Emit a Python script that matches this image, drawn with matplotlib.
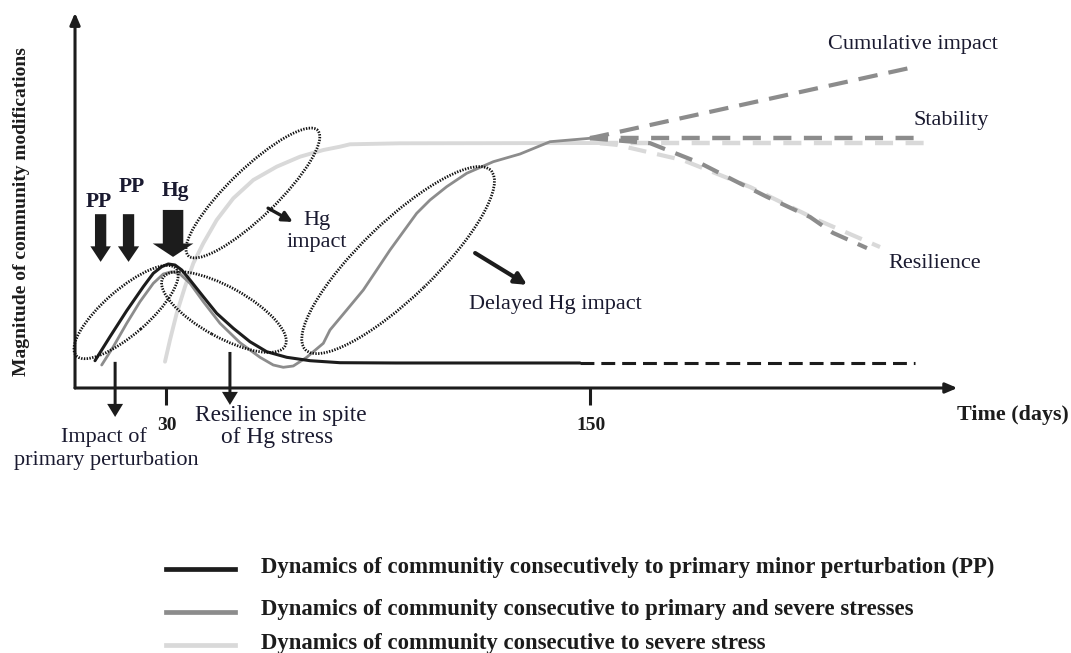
import matplotlib
matplotlib.use("Agg")
import matplotlib.pyplot as plt
from matplotlib.patches import Ellipse
from matplotlib.lines import Line2D

plt.rcParams['lines.scale_dashes'] = False
plt.rcParams['font.family'] = ['Liberation Serif', 'DejaVu Serif']

# ---------------- data (days, magnitude in arbitrary units) ----------------
pp_days = [9.91, 14.15, 18.88, 23.58, 26.41, 28.79, 30.65, 32.55, 34.45, 36.80, 40.56, 44.35,
           49.05, 53.78, 58.51, 64.17, 70.76, 79.25, 95.0, 147.18]
pp_mag = [7.73, 14.52, 21.88, 28.67, 32.47, 34.33, 35.10, 34.81, 33.40, 30.57, 25.84, 21.14,
          16.90, 13.10, 10.27, 8.69, 7.73, 7.16, 7.08, 7.08]
pp_dash_days = [147.18, 242.0]
pp_dash_mag = [7.08, 7.08]

both_days = [11.80, 15.09, 18.88, 22.64, 26.41, 29.24, 31.62, 33.97, 36.80, 40.56, 45.29, 50.95,
             56.61, 60.37, 63.20, 66.03, 69.83, 74.53, 76.42, 81.15, 85.85, 89.64, 93.41, 97.17,
             100.96, 104.73, 109.45, 115.11, 122.64, 130.20, 138.69, 150.01]
both_mag = [6.51, 11.69, 18.31, 24.43, 29.63, 32.27, 32.92, 32.27, 29.63, 24.43, 18.31, 12.82,
            8.69, 6.51, 5.86, 6.23, 8.69, 12.65, 16.42, 22.08, 27.74, 33.40, 39.06, 44.24,
            49.45, 53.21, 56.98, 60.77, 64.05, 66.23, 69.71, 70.68]

severe_days = [29.72, 31.13, 33.03, 35.38, 37.73, 40.56, 44.35, 49.05, 54.71, 61.33, 67.93,
               74.53, 79.25, 82.08, 96.24, 152.84]
severe_mag = [7.45, 13.59, 21.14, 28.67, 35.30, 40.96, 47.55, 53.69, 58.87, 62.64, 65.47,
              67.36, 68.30, 68.98, 69.26, 69.34]

# scenarios after day 150
cumul_days = [150.0, 240.6]
cumul_mag = [70.7, 90.6]
stab_both_days = [150.0, 243.4]
stab_both_mag = [70.7, 70.7]
stab_sev_days = [152.8, 247.7]
stab_sev_mag = [69.3, 69.3]
resil_both_days = [150.0, 167.0, 181.1, 190.5, 200.1, 212.3, 218.8, 228.4]
resil_both_mag = [70.7, 69.3, 63.7, 58.9, 54.1, 48.4, 43.9, 39.6]
resil_sev_days = [152.8, 157.7, 176.3, 195.3, 214.3, 232.1]
resil_sev_mag = [69.3, 68.8, 64.5, 56.9, 47.6, 39.9]

tick_days = [30, 150]
tick_labels = ["30", "150"]

legend_labels = [
    "Dynamics of communitiy consecutively to primary minor perturbation (PP)",
    "Dynamics of community consecutive to primary and severe stresses",
    "Dynamics of community consecutive to severe stress",
]

# ---------------- styles ----------------
C_BLACK = '#1c1c1c'
C_GRAY = '#8c8c8c'
C_LIGHT = '#d9d9d9'
C_TEXT = '#1a1a30'

W, H = 1071, 653
fig = plt.figure(figsize=(W / 100, H / 100), dpi=100)
ax = fig.add_axes([0, 0, 1, 1])
X0, Y0, S = 60.0, 388.0, 3.533  # pixel of day 0, pixel of magnitude 0, px per unit
ax.set_xlim((0 - X0) / S, (W - X0) / S)
ax.set_ylim((Y0 - H) / S, (Y0 - 0) / S)
ax.axis('off')


def fx(px):
    return px / W


def fy(py):
    return 1 - py / H


def ftext(px, py, s, **kw):
    fig.text(fx(px), fy(py), s, ha=kw.pop('ha', 'center'), va=kw.pop('va', 'center'),
             color=kw.pop('color', C_TEXT), **kw)


# axes arrows
ax.annotate('', xy=(4.25, 106.2), xytext=(4.25, 0), arrowprops=dict(
    arrowstyle='-|>,head_length=0.7,head_width=0.3', lw=2.2, color=C_BLACK, shrinkA=0, shrinkB=0))
ax.annotate('', xy=(254.0, 0), xytext=(4.25, 0), arrowprops=dict(
    arrowstyle='-|>,head_length=0.7,head_width=0.3', lw=2.2, color=C_BLACK, shrinkA=0, shrinkB=0))
for d in tick_days:
    ax.plot([d, d], [0, -4.8], color=C_BLACK, lw=2.2, solid_capstyle='butt')

# curves
line_kw = dict(solid_capstyle='round', solid_joinstyle='round')
ax.plot(severe_days, severe_mag, color=C_LIGHT, lw=2.8, zorder=2, **line_kw)
ax.plot(both_days, both_mag, color=C_GRAY, lw=2.0, zorder=3, **line_kw)
ax.plot(pp_days, pp_mag, color=C_BLACK, lw=2.2, zorder=4, **line_kw)
ax.plot(pp_dash_days, pp_dash_mag, color=C_BLACK, lw=2.2, dashes=(10, 5), zorder=4)

# scenarios
ax.plot(stab_sev_days, stab_sev_mag, color=C_LIGHT, lw=3.2, dashes=(13, 9), zorder=2)
ax.plot(resil_sev_days, resil_sev_mag, color=C_LIGHT, lw=3.0, dashes=(13, 8), zorder=2)
ax.plot(cumul_days, cumul_mag, color=C_GRAY, lw=3.0, dashes=(14, 8), zorder=3)
ax.plot(stab_both_days, stab_both_mag, color=C_GRAY, lw=3.2, dashes=(13, 9), zorder=3)
ax.plot(resil_both_days, resil_both_mag, color=C_GRAY, lw=3.0, dashes=(13, 8), zorder=3)

# dotted ellipses
ell_style = dict(fill=False, edgecolor='#111111', lw=2.0, linestyle=(0, (1.0, 1.0)), zorder=5)
for (cx, cy), w_, h_, ang in [((18.7, 21.5), 37.5, 12.7, 41),
                              ((46.4, 21.5), 39.6, 14.2, -29),
                              ((54.6, 55.2), 51.0, 13.6, 44),
                              ((95.7, 36.2), 73.0, 21.2, 44)]:
    ax.add_patch(Ellipse((cx, cy), w_, h_, angle=ang, **ell_style))

# stress arrows
for xd, top, tip, wd, hw, hl in [(11.5, 49.2, 35.7, 3.2, 5.8, 4.4),
                                 (19.4, 49.2, 35.7, 3.2, 6.0, 4.4),
                                 (32.0, 50.4, 37.1, 5.8, 11.5, 3.8)]:
    ax.arrow(xd, top, 0, tip - top, width=wd, head_width=hw, head_length=hl,
             length_includes_head=True, color=C_BLACK, lw=0, zorder=6)
for xd, top, tip in [(15.6, 7.4, -8.2), (48.1, 10.2, -4.8)]:
    ax.arrow(xd, top, 0, tip - top, width=0.85, head_width=4.5, head_length=3.7,
             length_includes_head=True, color=C_BLACK, lw=0, zorder=6)

# annotation arrows
ax.annotate('', xy=(65.9, 47.0), xytext=(58.9, 50.9), arrowprops=dict(
    arrowstyle='-|>,head_length=0.6,head_width=0.3', lw=2.4, color=C_BLACK, shrinkA=0, shrinkB=0))
ax.annotate('', xy=(132.2, 29.2), xytext=(117.5, 38.2), arrowprops=dict(
    arrowstyle='-|>,head_length=0.7,head_width=0.35', lw=3.0, color=C_BLACK, shrinkA=0, shrinkB=0))

# texts
ftext(99, 202, "PP", fontsize=15.5, fontweight='bold')
ftext(132, 187, "PP", fontsize=15.5, fontweight='bold')
ftext(175, 191, "Hg", fontsize=15.5, fontweight='bold')
ftext(317, 220, "Hg", fontsize=16)
ftext(317, 243, "impact", fontsize=16)
ftext(555, 305, "Delayed Hg impact", fontsize=16)
ftext(913, 45, "Cumulative impact", fontsize=16)
ftext(951, 121, "Stability", fontsize=16)
ftext(935, 263, "Resilience", fontsize=16)
ftext(104, 437, "Impact of", fontsize=16)
ftext(106, 460, "primary perturbation", fontsize=16)
ftext(281, 415, "Resilience in spite", fontsize=16.8)
ftext(277, 437, "of Hg stress", fontsize=16.8)
for d, lab in zip(tick_days, tick_labels):
    ftext(X0 + d * S + 1, 425, lab, fontsize=14, fontweight='bold', color=C_BLACK)
ftext(1013, 415, "Time (days)", fontsize=15.8, fontweight='bold', color=C_BLACK)
ftext(22, 212, "Magnitude of community modifications", fontsize=14, fontweight='bold',
      rotation=90, color=C_BLACK)

# legend
for (py, col), lab in zip([(569, C_BLACK), (612, C_GRAY), (645, C_LIGHT)], legend_labels):
    fig.add_artist(Line2D([fx(166), fx(235)], [fy(py), fy(py)], color=col, lw=3.4,
                          transform=fig.transFigure))
    ftext(261, py - 2, lab, fontsize=16.4, fontweight='bold', ha='left', color=C_BLACK)

fig.savefig('out.png', dpi=100)
